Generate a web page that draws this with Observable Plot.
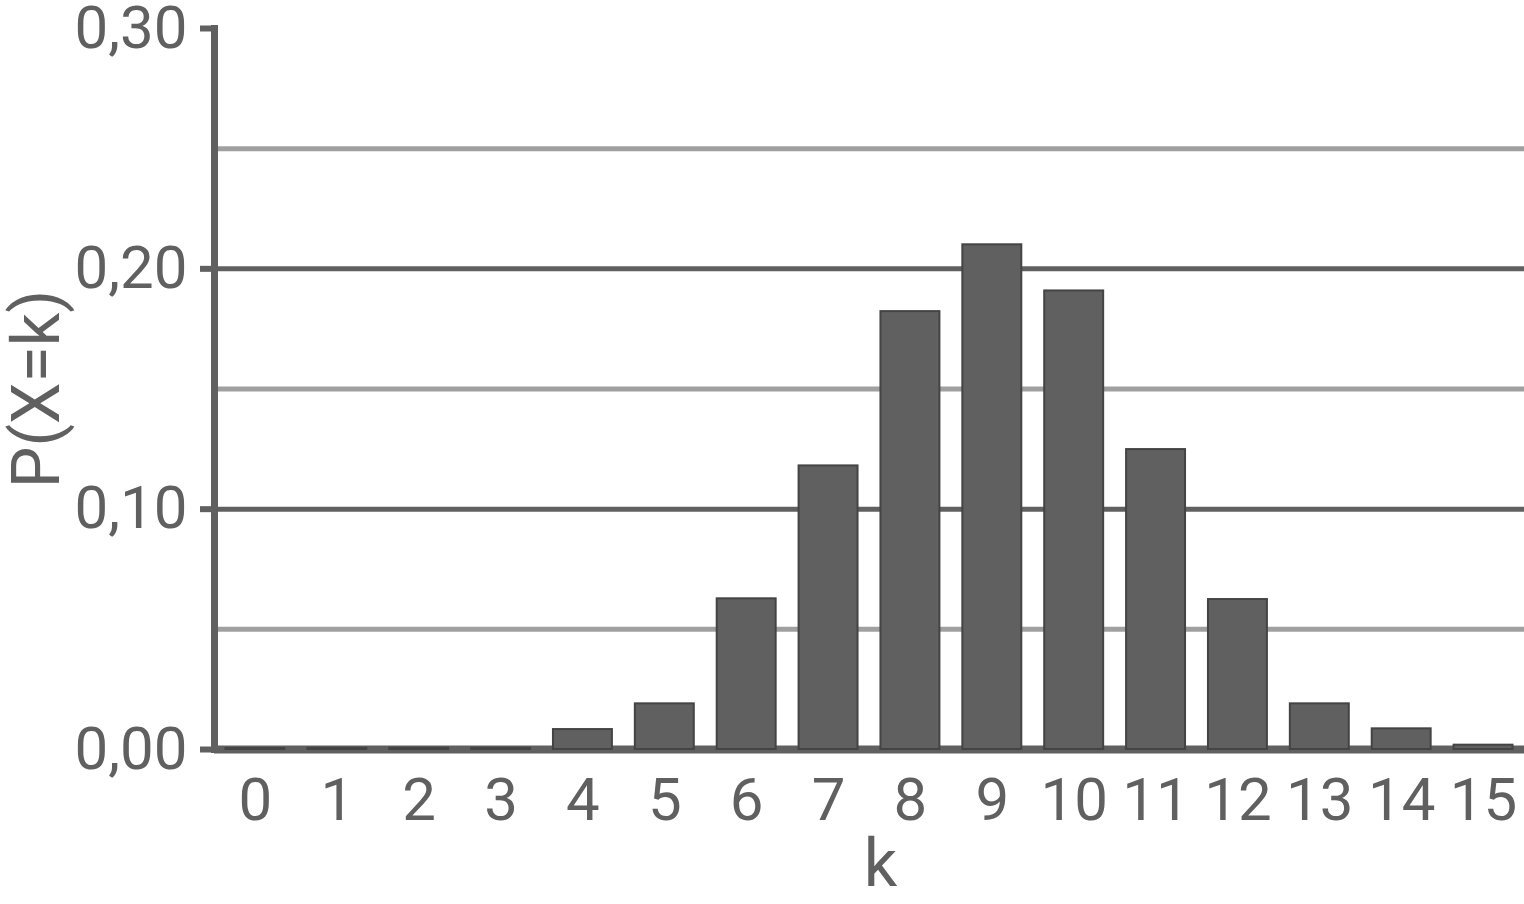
<!DOCTYPE html>
<html>
<head>
<meta charset="utf-8">
<script src="https://cdn.jsdelivr.net/npm/d3@7"></script>
<script src="https://cdn.jsdelivr.net/npm/@observablehq/plot@0.6"></script>
<style>
  html, body { margin: 0; padding: 0; background: #fff; }
  #chart svg { display: block; }
</style>
</head>
<body>
<div id="chart"></div>
<script>
const ks = [0, 1, 2, 3, 4, 5, 6, 7, 8, 9, 10, 11, 12, 13, 14, 15];
const probs = [0.0004, 0.0005, 0.0005, 0.0005, 0.0083, 0.019, 0.0627, 0.118, 0.1822, 0.210, 0.1908, 0.1248, 0.0624, 0.019, 0.0086, 0.0018];
const yTicks = [0, 0.1, 0.2, 0.3];
const gridDark = [0.1, 0.2];
const gridLight = [0.05, 0.15, 0.25];
const xTitle = "k";
const yTitle = "P(X=k)";

const data = ks.map((k, i) => ({k, p: probs[i]}));
const fmt = v => v.toFixed(2).replace(".", ",");

const chart = Plot.plot({
  width: 1524,
  height: 904,
  marginLeft: 214,
  marginRight: 0,
  marginTop: 28,
  marginBottom: 155,
  style: {fontFamily: "Roboto, sans-serif", color: "#606060", background: "#fff"},
  x: {type: "band", domain: ks, paddingInner: 0.28, paddingOuter: 0.14, round: false},
  y: {domain: [0, 0.3]},
  marks: [
    Plot.ruleY(gridLight, {stroke: "#a0a0a0", strokeWidth: 5}),
    Plot.ruleY(gridDark, {stroke: "#606060", strokeWidth: 5}),
    Plot.ruleY([0], {stroke: "#606060", strokeWidth: 8}),
    Plot.frame({anchor: "left", stroke: "#606060", strokeWidth: 7}),
    Plot.axisY({ticks: yTicks, tickFormat: fmt, tickSize: 14, tickPadding: 13, strokeWidth: 6, fontSize: 60, label: null, stroke: "#606060"}),
    Plot.axisX({tickSize: 0, tickPadding: 28, fontSize: 60, label: null}),
    Plot.barY(data, {x: "k", y: "p", fill: "#606060", stroke: "#444444", strokeWidth: 2}),
    Plot.text([xTitle], {text: d => d, frameAnchor: "bottom", textAnchor: "middle", dx: 11, dy: 136, lineAnchor: "bottom", fontSize: 66, fill: "#606060"}),
    Plot.text([yTitle], {text: d => d, frameAnchor: "left", textAnchor: "middle", rotate: -90, dx: -202, lineAnchor: "top", fontSize: 66, fill: "#606060"})
  ]
});
document.getElementById("chart").appendChild(chart);
</script>
</body>
</html>
